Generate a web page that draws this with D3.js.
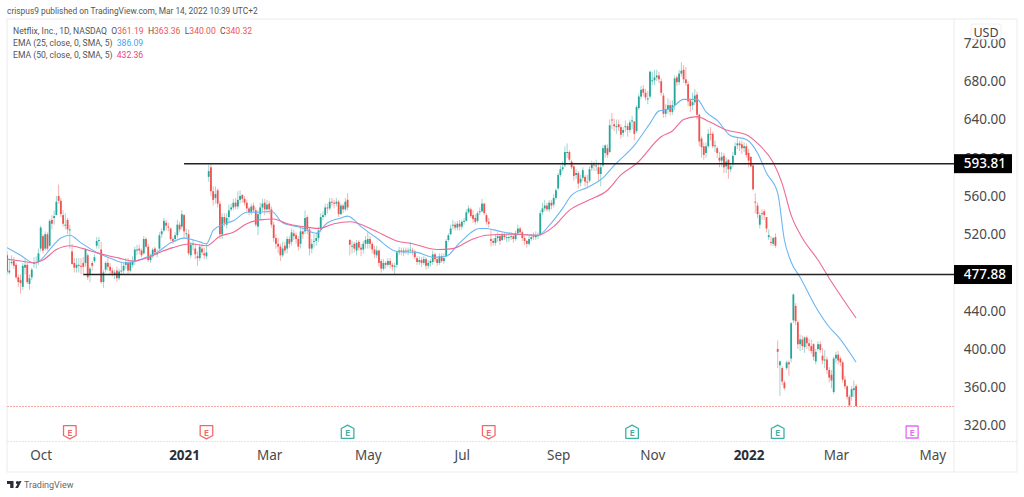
<!DOCTYPE html>
<html>
<head>
<meta charset="utf-8">
<script src="https://cdn.jsdelivr.net/npm/d3@7"></script>
<style>
  html, body { margin: 0; background: #fff; }
  svg { display: block; font-family: "Noto Sans", sans-serif; }
</style>
</head>
<body>
<svg id="chart" width="1024" height="497"></svg>
<script>
/* ── Data: daily NFLX bars, one line per month ── */
const opens = [
  498,480,490,492,488,475,472,465,485,488,468,475,490,490,491,
  505,518,505,520,508,535,537,540,560,555,540,530,535,525,502,490,485,488,487,490,490,498,
  478,490,492,508,514,504,470,483,490,486,482,478,482,474,482,482,488,490,482,488,
  492,504,505,503,500,515,507,493,497,505,500,505,520,524,532,528,526,515,515,519,530,528,
  540,520,520,498,510,505,497,495,505,500,497,580,590,565,558,566,552,520,538,
  530,538,546,548,553,549,556,561,557,553,547,543,550,545,528,541,548,553,546,
  552,546,530,516,510,507,498,508,505,515,512,521,519,515,510,523,523,538,525,505,512,513,516,
  525,538,540,548,547,554,553,552,554,541,550,546,556,514,508,510,503,512,506,504,510,
  510,515,510,504,498,503,492,484,490,488,492,488,486,488,501,503,501,503,502,503,
  503,502,495,491,493,490,494,487,490,491,499,494,490,497,492,497,514,520,530,530,527,531,
  528,533,534,543,546,540,537,534,543,544,552,540,533,515,513,511,516,518,514,519,516,
  517,517,518,515,521,526,522,516,513,510,515,518,517,519,520,543,547,550,546,553,551,558,
  568,582,588,592,606,606,596,591,582,584,574,579,580,575,576,589,593,592,590,583,592,
  605,610,606,640,635,633,635,632,626,632,633,629,638,638,628,652,664,672,668,662,664,
  680,681,684,686,680,665,646,651,655,648,655,684,679,688,692,682,677,660,655,658,666,
  645,620,612,605,612,625,625,612,610,600,597,602,591,598,588,593,603,613,615,614,610,612,
  605,601,592,554,550,530,542,544,538,517,512,510,517,400,383,380,365,380,386,390,
  430,445,428,405,410,402,412,406,403,405,387,400,405,393,388,389,378,373,355,
  390,394,390,386,368,361,350,350,357,361.19
];
const highs = [
  502,493,498,496,490,478,478,490,495,490,478,485,496,497,505,
  529,520,523,522,536,540,545,560,572,558,545,542,537,530,510,495,495,495,495,496,505,500,
  486,492,499,517,517,512,483,492,495,490,485,483,486,484,490,490,495,495,492,497,
  507,509,509,505,518,517,510,500,506,507,504,522,526,537,535,532,527,517,522,535,533,545,
  541,526,525,512,515,510,502,510,510,506,510,593,593,570,570,568,555,542,542,
  542,551,552,557,558,565,566,562,560,556,549,552,553,548,545,553,557,557,556,
  555,549,533,520,516,510,512,512,518,518,526,525,522,518,528,525,545,540,527,515,520,522,528,
  542,544,552,552,558,558,556,558,556,552,552,558,563,515,513,512,514,514,510,513,518,
  522,518,512,508,508,504,494,494,492,495,495,490,490,503,507,506,506,506,506,512,
  506,504,497,497,496,497,496,493,494,503,501,497,500,500,500,515,521,530,535,533,534,535,
  535,537,546,550,548,545,541,544,548,557,553,542,537,525,516,520,522,520,522,522,521,
  522,522,520,524,530,528,524,518,514,518,520,522,523,522,545,553,556,553,556,556,562,568,
  584,592,596,612,615,608,598,592,588,586,582,590,582,582,591,597,596,598,595,594,613,
  614,614,640,647,641,640,640,635,632,639,636,640,644,630,655,667,675,676,672,670,691,
  690,692,692,690,683,668,656,662,660,660,686,686,692,700,697,695,680,662,668,672,669,
  646,622,616,616,630,632,627,618,612,606,606,605,600,598,594,606,616,621,618,618,616,615,
  609,601,593,563,553,543,546,546,538,525,518,517,521,409,388,382,367,388,388,428,
  458,448,430,415,414,413,414,411,410,406,400,408,408,401,399,392,381,378,392,
  397,398,392,388,372,362,352,361,367,363.36
];
const lows = [
  478,478,488,484,473,465,458,462,478,468,462,472,485,484,488,
  502,500,503,503,507,525,530,540,552,538,528,525,520,505,488,480,480,480,478,478,486,472,
  470,482,490,505,505,468,464,480,482,478,476,473,470,472,478,479,484,478,480,485,
  488,498,499,496,499,505,491,490,495,498,496,503,516,522,524,523,513,510,512,516,522,525,
  515,515,498,495,503,494,487,492,498,494,494,575,560,550,552,548,515,515,528,
  526,533,544,545,546,546,552,553,550,544,540,540,543,528,519,535,544,540,542,
  541,527,512,505,500,492,496,500,500,506,508,514,510,503,505,515,520,520,498,500,506,508,512,
  522,535,538,542,545,549,547,549,538,540,542,544,545,498,500,501,498,503,497,500,505,
  505,505,500,495,495,486,480,482,484,486,484,482,478,485,498,498,497,499,498,500,
  498,494,488,488,486,488,483,484,486,488,491,487,488,490,489,496,512,519,525,524,524,524,
  525,530,533,541,537,532,530,532,540,543,540,530,527,507,508,508,512,509,513,514,512,
  512,514,511,513,519,520,513,509,506,508,513,514,514,515,518,540,544,544,543,546,548,556,
  566,580,586,590,600,596,588,576,578,568,570,576,570,568,574,586,586,586,576,570,590,
  600,600,605,630,628,625,628,620,622,627,622,626,630,618,626,650,661,664,660,656,662,
  676,676,680,678,665,642,642,646,644,645,650,675,676,685,678,675,654,648,650,655,640,
  612,600,598,600,610,618,610,606,600,590,590,584,584,578,585,590,602,609,607,604,606,600,
  590,590,566,542,537,526,535,535,522,514,508,508,506,380,351,362,357,378,372,386,
  427,425,400,398,399,396,400,398,395,388,384,398,396,384,380,374,365,359,353,
  385,384,382,365,358,347,340,346,350,340
];
const closes = [
  481,482,491,487,475,470,469,487,488,470,474,483,490,491,500,
  527,503,520,505,534,531,539,554,555,541,531,530,525,525,489,485,488,488,486,486,504,475,
  484,487,496,513,514,470,480,490,486,482,479,480,474,481,482,487,491,482,490,491,
  504,504,503,498,515,507,493,497,504,501,500,519,523,534,529,527,515,513,519,530,525,541,
  523,521,500,509,510,499,495,507,501,498,501,586,565,556,562,552,520,538,532,
  537,545,548,553,549,556,560,557,553,547,543,549,545,530,541,548,552,546,551,
  546,530,516,510,507,498,505,503,515,510,522,518,515,507,523,520,537,525,505,510,513,516,524,
  538,540,548,547,554,553,552,554,541,550,546,554,548,509,508,505,511,506,504,510,514,
  515,510,504,499,503,490,484,490,488,492,488,486,487,501,503,502,503,502,503,504,
  502,496,491,493,490,494,487,490,492,499,494,490,497,492,495,513,519,526,530,527,531,528,
  533,534,543,547,539,536,533,542,544,552,542,533,531,513,511,516,518,513,519,517,517,
  517,518,515,521,526,522,516,513,510,515,517,517,519,519,542,547,550,546,553,550,558,566,
  582,588,590,606,606,598,590,581,584,573,578,587,575,574,588,593,592,592,583,590,610,
  613,603,634,639,633,633,632,624,629,633,629,637,639,625,653,664,671,668,663,662,690,
  681,684,686,682,668,646,651,655,648,655,683,679,688,691,682,678,659,654,658,665,645,
  617,611,603,612,625,624,612,613,605,597,601,590,596,588,591,602,612,615,613,610,612,603,
  597,591,567,553,541,540,541,540,526,519,511,516,508,397,387,366,359,386,384,427,
  457,429,405,410,403,412,406,403,398,392,397,405,399,388,389,378,370,367,390,
  394,388,386,368,361,350,341,358,359,340.32
];

/* EMA lines: [bar, value] read at the bends of each line */
const ema25Bars = [0,6,12,15,19,24,28,33,40,46,53,61,67,73,79,86,89,92,96,101,107,113,118,123,131,138,143,149,152,158,165,174,183,190,196,202,211,214,220,228,237,243,248,252,259,266,271,280,287,291,296,302,308,312,317,323,330,335,339,344,347,350,354,361,367,371,379];
const ema25Vals = [506,498,490,493,504,516,519,511,501,495,490,495,501,511,516,512,510,524,530,534,543,543,544,532,527,521,532,537,539,528,516,502,501,496,497,511,526,526,523,520,519,532,547,561,569,579,592,613,636,649,651,661,661,648,639,623,619,605,584,563,514,491,475,444,423,413,386.09];
const ema50Bars = [0,6,12,16,22,28,34,41,50,56,62,68,74,82,89,95,101,107,113,119,125,132,139,146,153,163,174,181,192,199,207,214,226,237,244,251,259,268,274,281,292,297,302,308,314,321,330,335,342,346,350,355,362,367,379];
const ema50Vals = [494,492,490,493,504,508,505,500,495,492,495,501,506,510,508,518,522,531,535,536,531,528,526,531,533,525,513,510,504,505,514,519,520,519,528,545,555,566,582,594,622,628,640,643,637,629,624,615,595,573,540,516,493,474,432.36];

const priceTicks = [320,360,400,440,480,520,560,600,640,680,720];
const timeBars = [15,79,117,161,203,246,288,331,370,413];
const timeLabels = ['Oct','2021','Mar','May','Jul','Sep','Nov','2022','Mar','May'];
const boldLabels = ['2021','2022'];

const earningsBars = [28,89,152,215,279,344,404];
const earningsKinds = ['miss','miss','beat','miss','beat','beat','next'];

const levelValues = [593.81,477.88];
const levelStartBars = [79,34];
const lastClose = 340.32;

const legendRows = [
  [['Netflix, Inc., 1D, NASDAQ  O','#555'],['361.19','#ef5350'],['  H','#555'],['363.36','#ef5350'],['  L','#555'],['340.00','#ef5350'],['  C','#555'],['340.32','#ef5350']],
  [['EMA (25, close, 0, SMA, 5)  ','#555'],['386.09','#42a5f5']],
  [['EMA (50, close, 0, SMA, 5)  ','#555'],['432.36','#ec407a']]
];

/* ── Layout ── */
const frame = { left: 7, right: 1017, top: 19, bottom: 472 };
const plot = { left: 7, right: 954, top: 19, bottom: 441 };
const up = '#26a69a', down = '#ef5350';
const smallFont = 'Roboto, sans-serif';

const svg = d3.select('#chart');
const x = d3.scaleLinear().domain([0, 379]).range([7.1, 856.1]);
const y = d3.scaleLinear().domain([320, 720]).range([425.5, 43]);

svg.append('clipPath').attr('id', 'plot-clip').append('rect')
  .attr('x', plot.left).attr('y', plot.top)
  .attr('width', plot.right - plot.left).attr('height', plot.bottom - plot.top);

/* ── Frame and separators ── */
svg.append('rect')
  .attr('x', frame.left).attr('y', frame.top)
  .attr('width', frame.right - frame.left).attr('height', frame.bottom - frame.top)
  .attr('fill', '#fff').attr('stroke', '#ececec');
svg.append('line')
  .attr('x1', plot.right).attr('x2', plot.right).attr('y1', frame.top).attr('y2', frame.bottom)
  .attr('stroke', '#ececec');
svg.append('line')
  .attr('x1', plot.left).attr('x2', frame.right).attr('y1', plot.bottom + 0.5).attr('y2', plot.bottom + 0.5)
  .attr('stroke', '#f3dfe2').attr('stroke-dasharray', '2 1');

/* ── Last price line ── */
svg.append('line')
  .attr('x1', plot.left).attr('x2', plot.right)
  .attr('y1', Math.round(y(lastClose)) + 0.5).attr('y2', Math.round(y(lastClose)) + 0.5)
  .attr('stroke', '#f9a8a6').attr('stroke-dasharray', '2 1');

/* ── Candles ── */
const bars = d3.range(closes.length);
const g = svg.append('g').attr('clip-path', 'url(#plot-clip)');
const colour = i => closes[i] >= opens[i] ? up : down;

g.selectAll('line.wick').data(bars).join('line')
  .attr('class', 'wick')
  .attr('x1', i => x(i)).attr('x2', i => x(i))
  .attr('y1', i => y(highs[i])).attr('y2', i => y(lows[i]))
  .attr('stroke', colour).attr('stroke-opacity', 0.45).attr('stroke-width', 1);

g.selectAll('rect.body').data(bars).join('rect')
  .attr('class', 'body')
  .attr('x', i => x(i) - 0.9).attr('width', 1.8)
  .attr('y', i => y(Math.max(opens[i], closes[i])))
  .attr('height', i => Math.max(1, Math.abs(y(opens[i]) - y(closes[i]))))
  .attr('fill', colour);

/* ── EMA lines ── */
const line = d3.line().x(d => x(d[0])).y(d => y(d[1])).curve(d3.curveMonotoneX);
g.append('path').datum(d3.zip(ema25Bars, ema25Vals))
  .attr('d', line).attr('fill', 'none').attr('stroke', '#6ab7f5').attr('stroke-width', 1.1);
g.append('path').datum(d3.zip(ema50Bars, ema50Vals))
  .attr('d', line).attr('fill', 'none').attr('stroke', '#ee6a94').attr('stroke-width', 1.1);

/* ── Horizontal levels ── */
svg.selectAll('line.level').data(levelValues).join('line')
  .attr('class', 'level')
  .attr('x1', (d, i) => x(levelStartBars[i])).attr('x2', plot.right)
  .attr('y1', d => y(d)).attr('y2', d => y(d))
  .attr('stroke', '#222').attr('stroke-width', 1.5);

/* ── Price axis ── */
const priceAxis = svg.append('g')
  .attr('transform', `translate(${plot.right},0)`)
  .call(d3.axisRight(y).tickValues(priceTicks).tickSize(0).tickFormat(d3.format('.2f')));
priceAxis.select('.domain').remove();
priceAxis.selectAll('text')
  .attr('x', 52).attr('text-anchor', 'end')
  .attr('font-family', '"Noto Sans", sans-serif').attr('font-size', 13.5).attr('fill', '#4a4a4a');

svg.selectAll('rect.level-box').data(levelValues).join('rect')
  .attr('class', 'level-box')
  .attr('x', plot.right).attr('width', 58)
  .attr('y', d => y(d) - 9.5).attr('height', 19)
  .attr('fill', '#000');
svg.selectAll('text.level-label').data(levelValues).join('text')
  .attr('class', 'level-label')
  .attr('x', plot.right + 52).attr('y', d => y(d)).attr('dy', '0.35em')
  .attr('text-anchor', 'end').attr('font-size', 13.5).attr('font-weight', 500)
  .attr('fill', '#fff').text(d3.format('.2f'));

/* ── USD button ── */
svg.append('rect')
  .attr('x', 971).attr('y', 24).attr('width', 30).attr('height', 15).attr('rx', 2.5)
  .attr('fill', '#fff').attr('stroke', '#eeeeee');
svg.append('text')
  .attr('x', 986).attr('y', 36.5).attr('text-anchor', 'middle')
  .attr('font-size', 12.5).attr('fill', '#444').text('USD');

/* ── Time axis ── */
const timeAxis = svg.append('g')
  .attr('transform', `translate(0,${plot.bottom})`)
  .call(d3.axisBottom(x).tickValues(timeBars).tickSize(0)
    .tickFormat((d, i) => timeLabels[i]));
timeAxis.select('.domain').remove();
timeAxis.selectAll('text')
  .attr('y', 19).attr('dy', 0)
  .attr('font-family', '"Noto Sans", sans-serif').attr('font-size', 13.5)
  .attr('font-weight', (d, i) => boldLabels.includes(timeLabels[i]) ? 700 : 400)
  .attr('fill', (d, i) => boldLabels.includes(timeLabels[i]) ? '#2a2e39' : '#4a4a4a');

/* ── Earnings markers ── */
const markerColour = { miss: '#f2686a', beat: '#3bb0a4', next: '#e56bf2' };
const markerShape = {
  miss: 'M-6.3,-6.3H6.3V3.5L0,6.8L-6.3,3.5Z',
  beat: 'M-6.3,6.3H6.3V-3.5L0,-6.8L-6.3,-3.5Z',
  next: 'M-6,-6H6V6H-6Z'
};
const markers = svg.selectAll('g.earnings').data(earningsBars).join('g')
  .attr('class', 'earnings')
  .attr('transform', d => `translate(${x(d)},432)`);
markers.append('path')
  .attr('d', (d, i) => markerShape[earningsKinds[i]])
  .attr('fill', '#fff').attr('stroke-width', 1.3).attr('stroke-linejoin', 'round')
  .attr('stroke', (d, i) => markerColour[earningsKinds[i]]);
markers.append('text')
  .attr('text-anchor', 'middle').attr('y', 3.5).attr('font-size', 9.5).attr('font-weight', 600)
  .attr('fill', (d, i) => markerColour[earningsKinds[i]]).text('E');

/* ── Texts above and below the chart ── */
svg.append('text')
  .attr('x', 7).attr('y', 14).attr('font-family', smallFont).attr('font-size', 8.4).attr('fill', '#555')
  .text('crispus9 published on TradingView.com, Mar 14, 2022 10:39 UTC+2');

svg.selectAll('text.legend').data(legendRows).join('text')
  .attr('class', 'legend')
  .attr('x', 13).attr('y', (d, i) => 33.5 + i * 12)
  .attr('font-family', smallFont).attr('font-size', 8.6).style('white-space', 'pre')
  .selectAll('tspan').data(d => d).join('tspan')
  .attr('fill', d => d[1]).text(d => d[0]);

// TradingView mark
svg.append('path')
  .attr('transform', 'translate(7,481)')
  .attr('d', 'M0,0H6.5V7H3.2V3H0ZM10.5,0a1.6,1.6 0 1 1 -0.01,0ZM12.5,0H14.5L11,7H8.2Z')
  .attr('fill', '#2a2e39');
svg.append('text')
  .attr('x', 24).attr('y', 488).attr('font-family', smallFont).attr('font-size', 9).attr('fill', '#666').text('TradingView');

if ([opens, highs, lows].some(a => a.length !== closes.length)) {
  throw new Error('bar arrays differ: ' + [opens.length, highs.length, lows.length, closes.length]);
}
</script>
</body>
</html>
